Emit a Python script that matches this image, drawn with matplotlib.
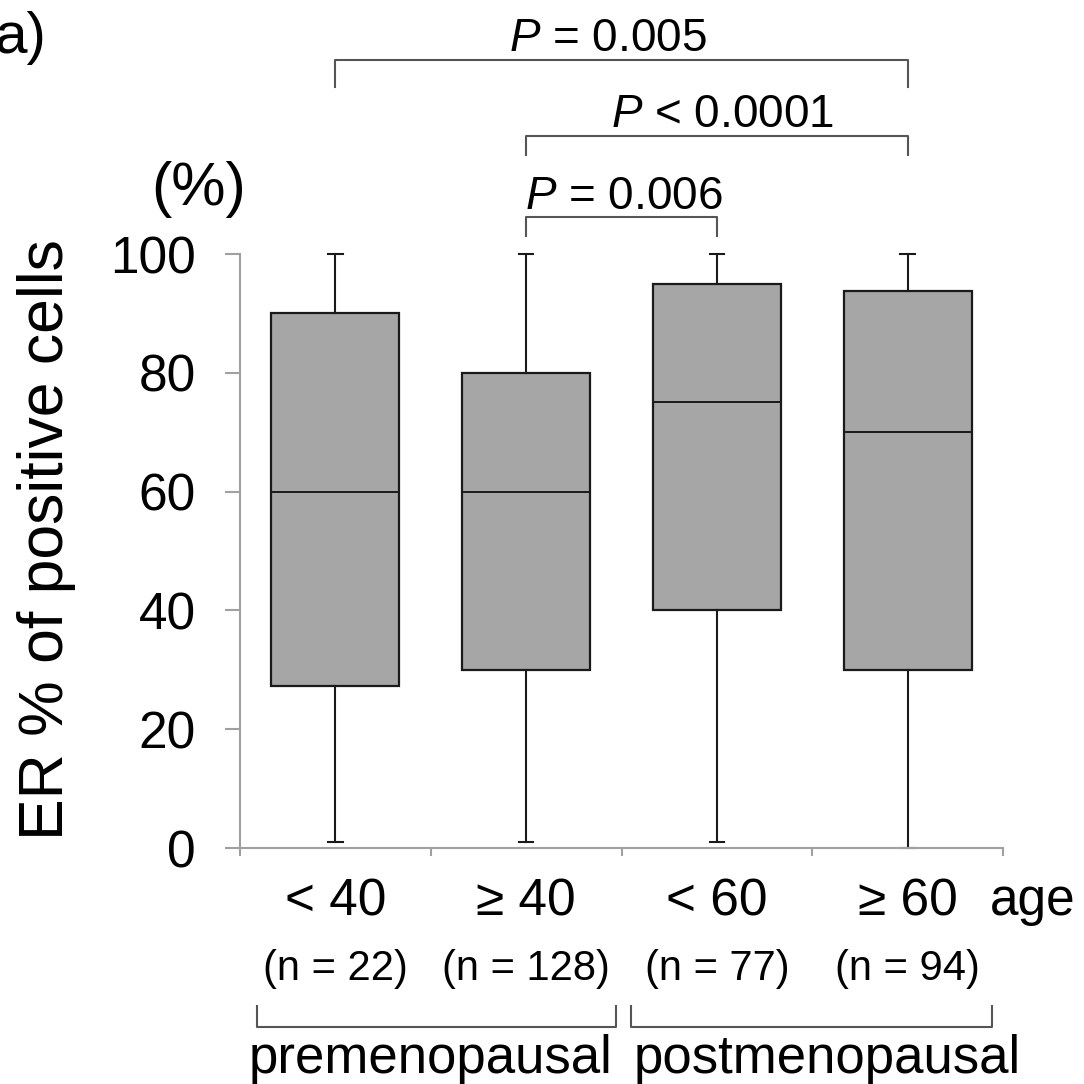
import matplotlib
matplotlib.use("Agg")
import matplotlib.pyplot as plt

plt.rcParams['font.family'] = ['Liberation Sans', 'DejaVu Sans']
plt.rcParams['mathtext.fontset'] = 'custom'
plt.rcParams['mathtext.rm'] = 'Liberation Sans'
plt.rcParams['mathtext.it'] = 'Liberation Sans:italic'

# data
groups = ['< 40', '≥ 40', '< 60', '≥ 60']
n_cases = [22, 128, 77, 94]
whisker_lo = [1, 1, 1, 0]
q1 = [27.3, 30, 40, 30]
median = [60, 60, 75, 70]
q3 = [90, 80, 95, 93.7]
whisker_hi = [100, 100, 100, 100]

# comparisons: (left group, right group, bracket height, drop, label, label x)
comparisons = [(0, 3, 132.7, 4.6, '$\\it{P}$ = 0.005', 1.43),
               (1, 3, 119.9, 3.2, '$\\it{P}$ < 0.0001', 2.03),
               (1, 2, 106.2, 3.2, '$\\it{P}$ = 0.006', 1.51)]

status = ['premenopausal', 'postmenopausal']
status_span = [(-0.41, 1.47), (1.55, 3.44)]
status_x = [0.50, 2.58]

fig = plt.figure(figsize=(10.84, 10.84), dpi=100)
ax = fig.add_axes([240 / 1084, 1 - 848 / 1084, 763 / 1084, 594 / 1084])

stats = []
for i in range(len(groups)):
    stats.append(dict(whislo=whisker_lo[i], q1=q1[i], med=median[i],
                      q3=q3[i], whishi=whisker_hi[i], fliers=[]))

bp = ax.bxp(stats, positions=range(len(groups)), widths=0.672,
            capwidths=0.075, patch_artist=True, showfliers=False,
            boxprops=dict(facecolor='#a6a6a6', edgecolor='#1a1a1a', linewidth=1.6),
            medianprops=dict(color='#1a1a1a', linewidth=1.4),
            whiskerprops=dict(color='#1a1a1a', linewidth=1.5),
            capprops=dict(color='#1a1a1a', linewidth=1.5))
for key in bp:
    for art in bp[key]:
        art.set_clip_on(False)

ax.set_xlim(-0.5, 3.5)
ax.set_ylim(0, 100)
ax.set_yticks([0, 20, 40, 60, 80, 100])
ax.set_xticks([-0.5, 0.5, 1.5, 2.5, 3.5])
ax.set_xticklabels([])
for s in ['top', 'right']:
    ax.spines[s].set_visible(False)
for s in ['left', 'bottom']:
    ax.spines[s].set_color('#a0a0a0')
    ax.spines[s].set_linewidth(1.5)
ax.tick_params(axis='y', length=11, width=1.5, color='#a0a0a0',
               labelsize=37, pad=21)
ax.tick_params(axis='x', length=6, width=1.5, color='#a0a0a0')

# category labels under the axis
for i, g in enumerate(groups):
    ax.text(i, -11.3, g, ha='center', va='baseline', fontsize=37, clip_on=False)
    ax.text(i, -22.2, '(n = %d)' % n_cases[i], ha='center', va='baseline',
            fontsize=30, clip_on=False)
ax.text(3.43, -11.3, 'age', ha='left', va='baseline', fontsize=37, clip_on=False)

# menopausal status brackets
for (x0, x1), name, tx in zip(status_span, status, status_x):
    ax.plot([x0, x0, x1, x1], [-26.6, -30.1, -30.1, -26.6], color='#555555',
            lw=1.5, clip_on=False)
    ax.text(tx, -37.9, name, ha='center', va='baseline', fontsize=38,
            clip_on=False)

# significance brackets
for a, b, h, drop, label, tx in comparisons:
    ax.plot([a, a, b, b], [h - drop, h, h, h - drop], color='#555555',
            lw=1.5, clip_on=False)
    ax.text(tx, h + 1.4, label, ha='center', va='baseline', fontsize=33,
            clip_on=False)

fig.text(47 / 1084, 1 - 540 / 1084, 'ER % of positive cells', rotation=90,
         ha='center', va='center', fontsize=45)
fig.text(199 / 1084, 1 - 189 / 1084, '(%)', ha='center', va='center', fontsize=44)
fig.text(46 / 1084, 1 - 38 / 1084, 'a)', ha='right', va='center', fontsize=42)

fig.savefig('out.png', dpi=100)
